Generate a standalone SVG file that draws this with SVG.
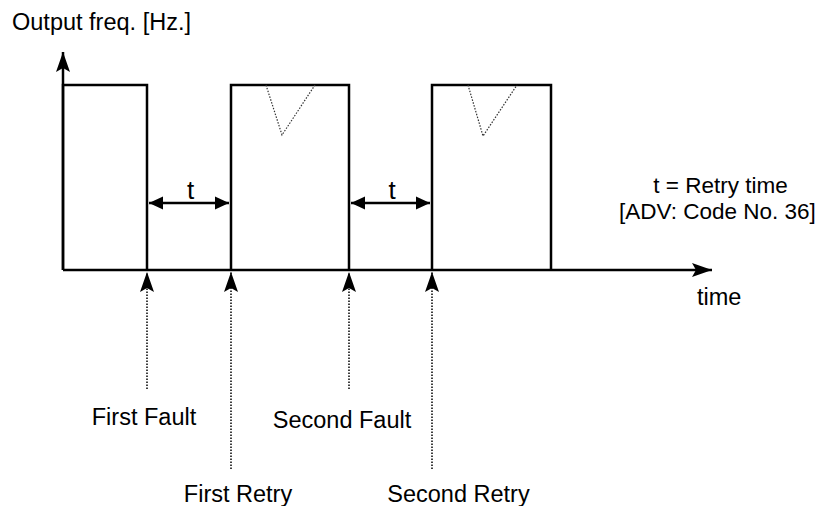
<svg xmlns="http://www.w3.org/2000/svg" width="826" height="506" viewBox="0 0 826 506">
<defs>
<style>
.ln{fill:none;stroke:#000;stroke-width:2.5;stroke-linejoin:miter}
.dot{fill:none;stroke:#000;stroke-width:1.5;stroke-dasharray:1.5 1.5}
.vdot{fill:none;stroke:#333;stroke-width:1.2;stroke-dasharray:1.5 1.5}
.txt{font-family:"Liberation Sans",Arial,sans-serif;font-size:23.5px;fill:#000}
.sm{font-size:22.5px}
.big{font-size:26px}
.mid{text-anchor:middle}
</style>
<marker id="ah" markerUnits="userSpaceOnUse" markerWidth="20" markerHeight="14" refX="20" refY="7" orient="auto" overflow="visible">
<path d="M0,0 L20,7 L0,14 L4,7 Z" fill="#000" stroke="none"/>
</marker>
<marker id="tri" markerUnits="userSpaceOnUse" markerWidth="14" markerHeight="13" refX="14" refY="6.5" orient="auto-start-reverse" overflow="visible">
<path d="M0,0 L14,6.5 L0,13 Z" fill="#000" stroke="none"/>
</marker>
</defs>
<rect width="826" height="506" fill="#fff"/>

<g id="axes">
<line class="ln" x1="63" y1="270" x2="63" y2="52" marker-end="url(#ah)"/>
<line class="ln" x1="63" y1="270" x2="712" y2="270" marker-end="url(#ah)"/>
</g>

<g id="pulses">
<path class="ln" d="M63,270 V85 H147 V270"/>
<path class="ln" d="M231,270 V85 H349 V270"/>
<path class="ln" d="M432,270 V85 H551 V270"/>
<path class="vdot" d="M266,85 L282,135 L315,85"/>
<path class="vdot" d="M468,85 L483,136 L517,85"/>
</g>

<g id="connectors">
<line class="ln" x1="149" y1="203" x2="229" y2="203" stroke-width="2" marker-start="url(#tri)" marker-end="url(#tri)"/>
<line class="ln" x1="351" y1="203" x2="430" y2="203" stroke-width="2" marker-start="url(#tri)" marker-end="url(#tri)"/>
<line class="dot" x1="147" y1="389" x2="147" y2="272" marker-end="url(#ah)"/>
<line class="dot" x1="231" y1="469" x2="231" y2="272" marker-end="url(#ah)"/>
<line class="dot" x1="349" y1="389" x2="349" y2="272" marker-end="url(#ah)"/>
<line class="dot" x1="432" y1="469" x2="432" y2="272" marker-end="url(#ah)"/>
</g>

<g id="labels">
<text class="txt" x="12" y="30">Output freq. [Hz.]</text>
<text class="txt big mid" x="190.5" y="199">t</text>
<text class="txt big mid" x="392" y="199">t</text>
<text class="txt sm mid" x="720.5" y="193">t = Retry time</text>
<text class="txt sm mid" x="717.5" y="219">[ADV: Code No. 36]</text>
<text class="txt" x="697" y="305">time</text>
<text class="txt mid" x="144" y="425">First Fault</text>
<text class="txt mid" x="342" y="428">Second Fault</text>
<text class="txt mid" x="238" y="502">First Retry</text>
<text class="txt mid" x="458.5" y="502">Second Retry</text>
</g>
</svg>
